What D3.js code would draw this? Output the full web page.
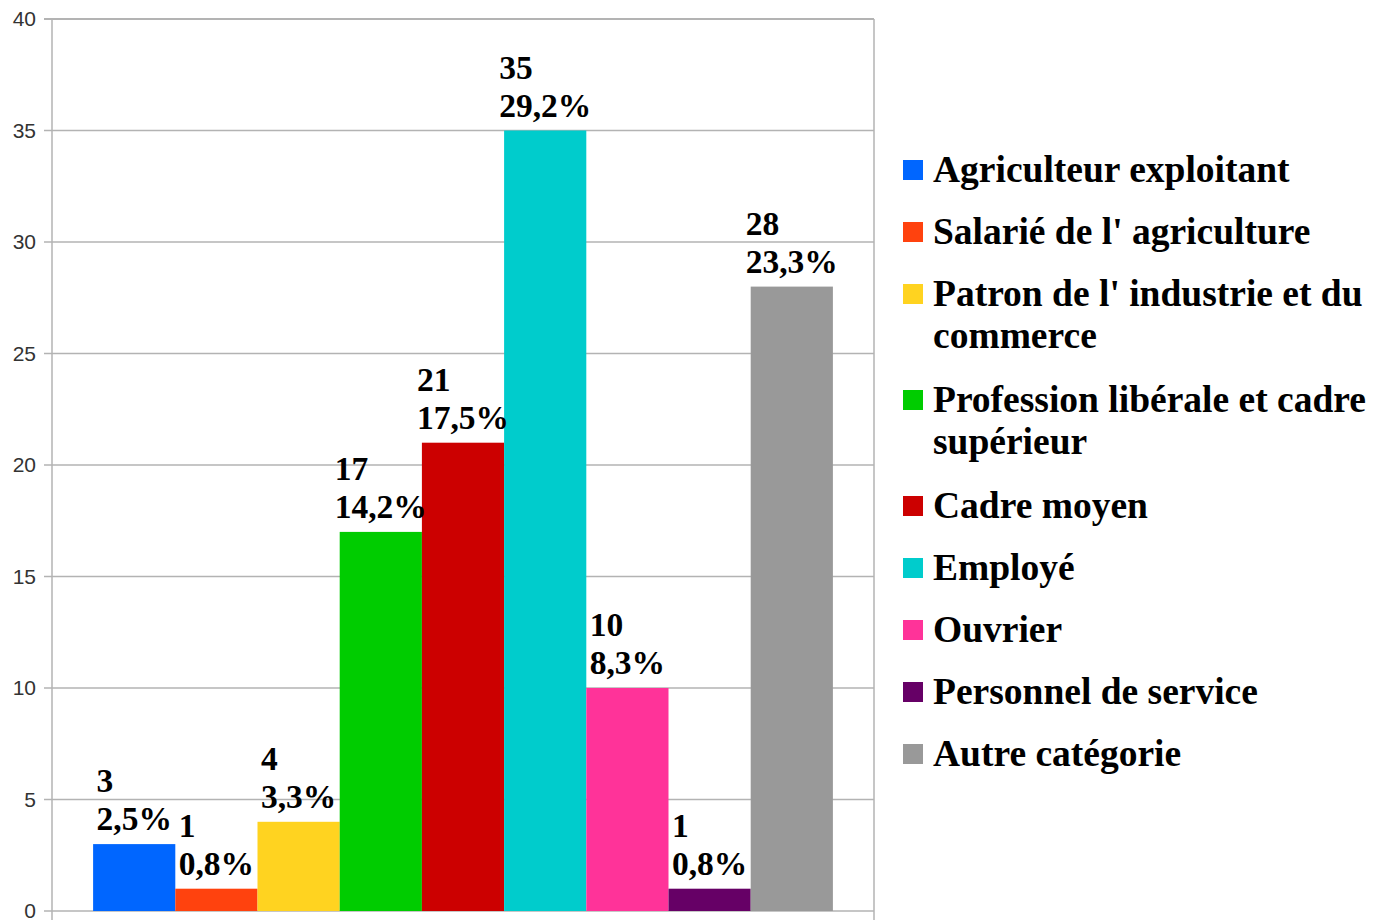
<!DOCTYPE html>
<html lang="fr">
<head>
    <meta charset="UTF-8">
    <title>Catégories</title>
    <script src="https://cdn.jsdelivr.net/npm/d3@7/dist/d3.min.js"></script>
    <style>
        body { margin: 0; background: #fff; }
        .lbl { font-family: "Liberation Serif", serif; font-weight: bold; font-size: 33.5px; fill: #000; }
        .leg { font-family: "Liberation Serif", serif; font-weight: bold; font-size: 37.5px; fill: #000; }
        .tick text { font-family: "Liberation Sans", sans-serif; font-size: 21px; fill: #333; }
    </style>
</head>
<body>
    <script>
        //data
        var categories = ['Agriculteur exploitant', "Salarié de l' agriculture",
            "Patron de l' industrie et du\ncommerce", 'Profession libérale et cadre\nsupérieur',
            'Cadre moyen', 'Employé', 'Ouvrier', 'Personnel de service', 'Autre catégorie'];
        var counts = [3, 1, 4, 17, 21, 35, 10, 1, 28];
        var percents = ['2,5%', '0,8%', '3,3%', '14,2%', '17,5%', '29,2%', '8,3%', '0,8%', '23,3%'];
        var colors = ['#0066ff', '#ff420e', '#ffd320', '#00cc00', '#cc0000', '#00cccc', '#ff3399', '#660066', '#999999'];
        var yTicks = [0, 5, 10, 15, 20, 25, 30, 35, 40];

        var w = 1399, h = 920;
        var plotL = 52, plotR = 874, plotT = 19, plotB = 911;

        var svg = d3.select('body').append('svg')
            .attr('width', w)
            .attr('height', h);

        var xScale = d3.scaleBand()
            .domain(d3.range(counts.length))
            .range([plotL, plotR])
            .paddingInner(0)
            .paddingOuter(0.5);

        var yScale = d3.scaleLinear()
            .domain([0, 40])
            .range([plotB, plotT]);

        //grid
        svg.append('g')
            .selectAll('line')
            .data(yTicks)
            .enter()
            .append('line')
            .attr('x1', plotL - 8)
            .attr('x2', plotR)
            .attr('y1', function(d) { return yScale(d); })
            .attr('y2', function(d) { return yScale(d); })
            .attr('stroke', '#b3b3b3')
            .attr('stroke-width', function(d) { return d === 40 ? 2 : 1.5; });

        //frame
        svg.append('line')
            .attr('x1', plotL).attr('x2', plotL)
            .attr('y1', plotT).attr('y2', h)
            .attr('stroke', '#b3b3b3').attr('stroke-width', 1.5);
        svg.append('line')
            .attr('x1', plotR).attr('x2', plotR)
            .attr('y1', plotT).attr('y2', h)
            .attr('stroke', '#b3b3b3').attr('stroke-width', 1.5);

        //y axis labels
        var yAxis = d3.axisLeft(yScale).tickValues(yTicks).tickSize(0).tickPadding(16);
        var ga = svg.append('g')
            .attr('transform', 'translate(' + plotL + ',0)')
            .call(yAxis);
        ga.select('.domain').remove();

        //bars
        svg.append('g')
            .selectAll('rect')
            .data(counts)
            .enter()
            .append('rect')
            .attr('x', function(d, i) { return xScale(i); })
            .attr('y', function(d) { return yScale(d); })
            .attr('width', xScale.bandwidth())
            .attr('height', function(d) { return yScale(0) - yScale(d); })
            .attr('fill', function(d, i) { return colors[i]; });

        //value labels: two lines, block centred on the bar
        var labels = svg.append('g')
            .selectAll('text')
            .data(counts)
            .enter()
            .append('text')
            .attr('class', 'lbl');
        labels.each(function(d, i) {
            var t = d3.select(this);
            var p = t.append('tspan').text(percents[i]);
            var tw = p.node().getComputedTextLength();
            var x0 = xScale(i) + xScale.bandwidth() / 2 - tw / 2;
            var yb = yScale(d) - 14;
            p.attr('x', x0).attr('y', yb);
            t.insert('tspan', 'tspan').text(d).attr('x', x0).attr('y', yb - 38);
        });

        //legend
        var legend = svg.append('g');
        var ly = 170;
        categories.forEach(function(c, i) {
            var lines = c.split('\n');
            legend.append('rect')
                .attr('x', 903)
                .attr('y', ly - 10)
                .attr('width', 20)
                .attr('height', 20)
                .attr('fill', colors[i]);
            var t = legend.append('text').attr('class', 'leg');
            lines.forEach(function(l, j) {
                t.append('tspan')
                    .attr('x', 933)
                    .attr('y', ly + 12 + j * 42)
                    .text(l);
            });
            ly += 62 + (lines.length - 1) * 44;
        });
    </script>
</body>
</html>
